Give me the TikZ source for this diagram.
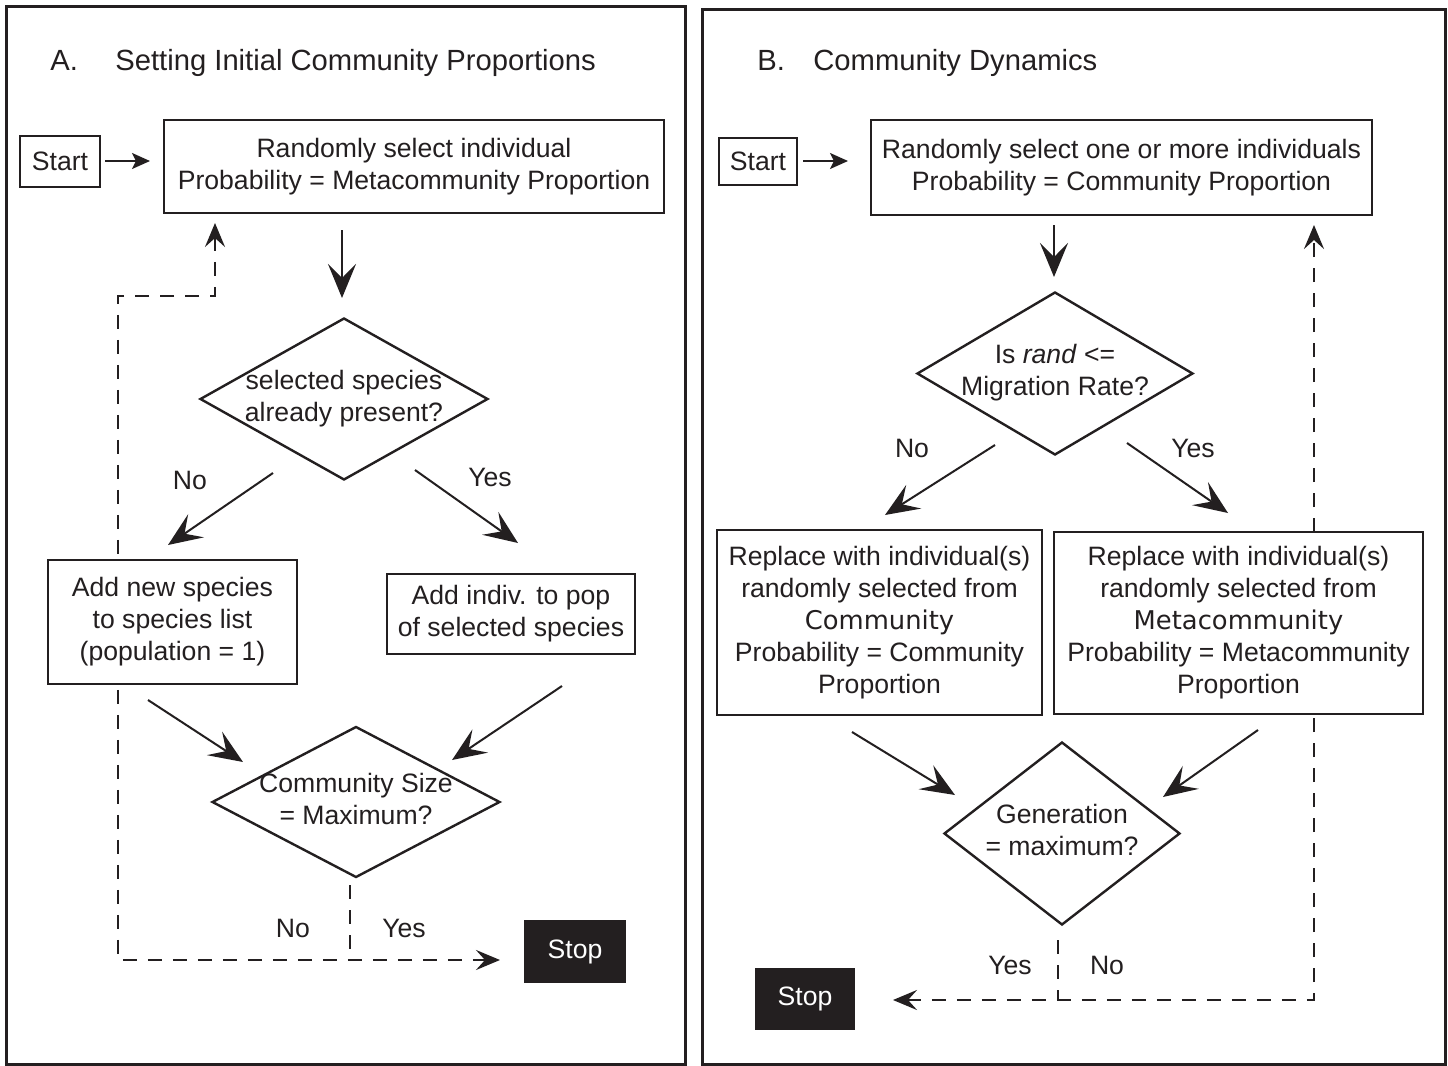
\documentclass[tikz,border=0pt]{standalone}
\usepackage{fontspec}
\setmainfont{Liberation Sans}
\newfontfamily\dejavu{DejaVu Sans}
\usetikzlibrary{shapes.geometric,arrows.meta,backgrounds}
\definecolor{ink}{HTML}{231F20}
\tikzset{
  txt/.style={font=\fontsize{13.3}{16}\selectfont, text=ink, align=center, inner sep=0pt},
  ttl/.style={font=\fontsize{14.6}{18}\selectfont, text=ink, anchor=base west, inner sep=0pt},
  box/.style={draw=ink, line width=1.2pt, fill=white, rectangle, align=center, inner sep=0pt,
     font=\fontsize{13.3}{16}\selectfont, text=ink},
  stopbox/.style={fill=ink, rectangle, inner sep=0pt, text=white, font=\fontsize{13.3}{16}\selectfont},
  dia/.style={draw=ink, line width=1.2pt, fill=white, diamond, inner sep=0pt, align=center,
     font=\fontsize{13.3}{16}\selectfont, text=ink},
  frame/.style={draw=ink, line width=1.5pt},
  flow/.style={draw=ink, line width=1pt, -{Stealth[length=17pt,width=14pt,inset=7pt]}},
  small/.style={draw=ink, line width=1pt, -{Stealth[length=9pt,width=8pt,inset=2pt]}},
  back/.style={draw=ink, line width=1.4pt, dash pattern=on 7pt off 5.5pt},
  backboth/.style={back, {Stealth[length=12pt,width=10pt,inset=4.5pt]}-{Stealth[length=12pt,width=10pt,inset=4.5pt]}},
}
\newcommand{\dtext}[1]{\makebox[0pt][c]{\begin{tabular}{@{}c@{}}#1\end{tabular}}}
\begin{document}
\begin{tikzpicture}[x=0.5pt,y=-0.5pt]
\useasboundingbox (0,0) rectangle (1448,1066);

% frames
\draw[frame] (6,6) rectangle (685,1064);
\draw[frame] (702,9) rectangle (1445,1064);

% titles
\node[ttl] (tA) at (50,70) {A.};
\node[ttl] (tA2) at (115,70) {Setting Initial Community Proportions};
\node[ttl] (tB) at (757,70) {B.};
\node[ttl] (tB2) at (813,70) {Community Dynamics};

% ---------- Panel A nodes ----------
\node[box, minimum width=40pt, minimum height=25.5pt] (startA) at (60,161.5) {Start};
\node[box, minimum width=250pt, minimum height=46.5pt] (selA) at (414,166.5)
  {Randomly select individual\\Probability = Metacommunity Proportion};
\node[dia, minimum width=144pt, minimum height=81pt] (presA) at (344,399)
  {\dtext{selected species\\already present?}};
\node[box, minimum width=124.5pt, minimum height=62pt] (newA) at (172.5,622)
  {Add new species\\to species list\\(population = 1)};
\node[box, minimum width=124pt, minimum height=40pt] (popA) at (511,614)
  {Add indiv. to pop\\of selected species};
\node[dia, minimum width=144pt, minimum height=75.5pt] (maxA) at (356,802)
  {\dtext{Community Size\\= Maximum?}};
\node[stopbox, minimum width=51pt, minimum height=31.5pt] (stopA) at (575,951.5) {Stop};

\node[txt] (noA1) at (190,480) {No};
\node[txt] (yesA1) at (490,477) {Yes};
\node[txt] (noA2) at (293,928) {No};
\node[txt] (yesA2) at (404,928) {Yes};

% ---------- Panel B nodes ----------
\node[box, minimum width=39pt, minimum height=23.5pt] (startB) at (758,161.5) {Start};
\node[box, minimum width=250.5pt, minimum height=47.5pt] (selB) at (1121.5,167.5)
  {Randomly select one or more individuals\\Probability = Community Proportion};
\node[dia, minimum width=138pt, minimum height=81.5pt] (migB) at (1055,373.5)
  {\dtext{Is \textit{rand} <=\\Migration Rate?}};
\node[box, minimum width=162.5pt, minimum height=92.5pt] (comB) at (879.5,622.5)
  {Replace with individual(s)\\randomly selected from\\{\dejavu\fontsize{12.9}{16}\selectfont Community}\\Probability = Community\\Proportion};
\node[box, minimum width=184.5pt, minimum height=91pt] (metB) at (1238.5,623)
  {Replace with individual(s)\\randomly selected from\\{\dejavu\fontsize{12.9}{16}\selectfont Metacommunity}\\Probability = Metacommunity\\Proportion};
\node[dia, minimum width=118pt, minimum height=91.5pt] (genB) at (1062,833.5)
  {\dtext{Generation\\= maximum?}};
\node[stopbox, minimum width=50pt, minimum height=31pt] (stopB) at (805,999) {Stop};

\node[txt] (noB1) at (912,448) {No};
\node[txt] (yesB1) at (1193,448) {Yes};
\node[txt] (yesB2) at (1010,965) {Yes};
\node[txt] (noB2) at (1107,965) {No};

% ---------- connector end points ----------
\coordinate (a1s) at (105,161);  \coordinate (a1e) at (150,161);
\coordinate (a2s) at (342,230);  \coordinate (a2e) at (342,298);
\coordinate (a3s) at (273,473);  \coordinate (a3e) at (168,545);
\coordinate (a4s) at (415,470);  \coordinate (a4e) at (518,543);
\coordinate (a5s) at (148,700);  \coordinate (a5e) at (243,762);
\coordinate (a6s) at (562,686);  \coordinate (a6e) at (452,760);
\coordinate (ad1) at (350,885);  \coordinate (ad2) at (350,960);
\coordinate (ad3) at (118,960);  \coordinate (ad4) at (500,960);
\coordinate (ad5) at (118,296);  \coordinate (ad6) at (215,296);
\coordinate (ad7) at (215,223);

\coordinate (b1s) at (803,161);  \coordinate (b1e) at (848,161);
\coordinate (b2s) at (1054,225); \coordinate (b2e) at (1054,277);
\coordinate (b3s) at (995,445);  \coordinate (b3e) at (885,515);
\coordinate (b4s) at (1127,443); \coordinate (b4e) at (1228,513);
\coordinate (b5s) at (852,732);  \coordinate (b5e) at (955,795);
\coordinate (b6s) at (1258,730); \coordinate (b6e) at (1163,797);
\coordinate (bd1) at (1058,940); \coordinate (bd2) at (1058,1000);
\coordinate (bd3) at (893,1000); \coordinate (bd4) at (1314,1000);
\coordinate (bd5) at (1314,225);

% ---------- solid connectors ----------
\draw[small] (a1s) -- (a1e);
\draw[flow] (a2s) -- (a2e);
\draw[flow] (a3s) -- (a3e);
\draw[flow] (a4s) -- (a4e);
\draw[flow] (a5s) -- (a5e);
\draw[flow] (a6s) -- (a6e);

\draw[small] (b1s) -- (b1e);
\draw[flow] (b2s) -- (b2e);
\draw[flow] (b3s) -- (b3e);
\draw[flow] (b4s) -- (b4e);
\draw[flow] (b5s) -- (b5e);
\draw[flow] (b6s) -- (b6e);

% ---------- dashed feedback connectors (behind boxes) ----------
\begin{scope}[on background layer]
\fill[white] (0,0) rectangle (1448,1066);
\draw[back] (ad1) -- (ad2);
\draw[backboth] (ad7) -- (ad6) -- (ad5) -- (ad3) -- (ad4);
\draw[back] (bd1) -- (bd2);
\draw[backboth] (bd3) -- (bd4) -- (bd5);
\end{scope}
\end{tikzpicture}
\end{document}
